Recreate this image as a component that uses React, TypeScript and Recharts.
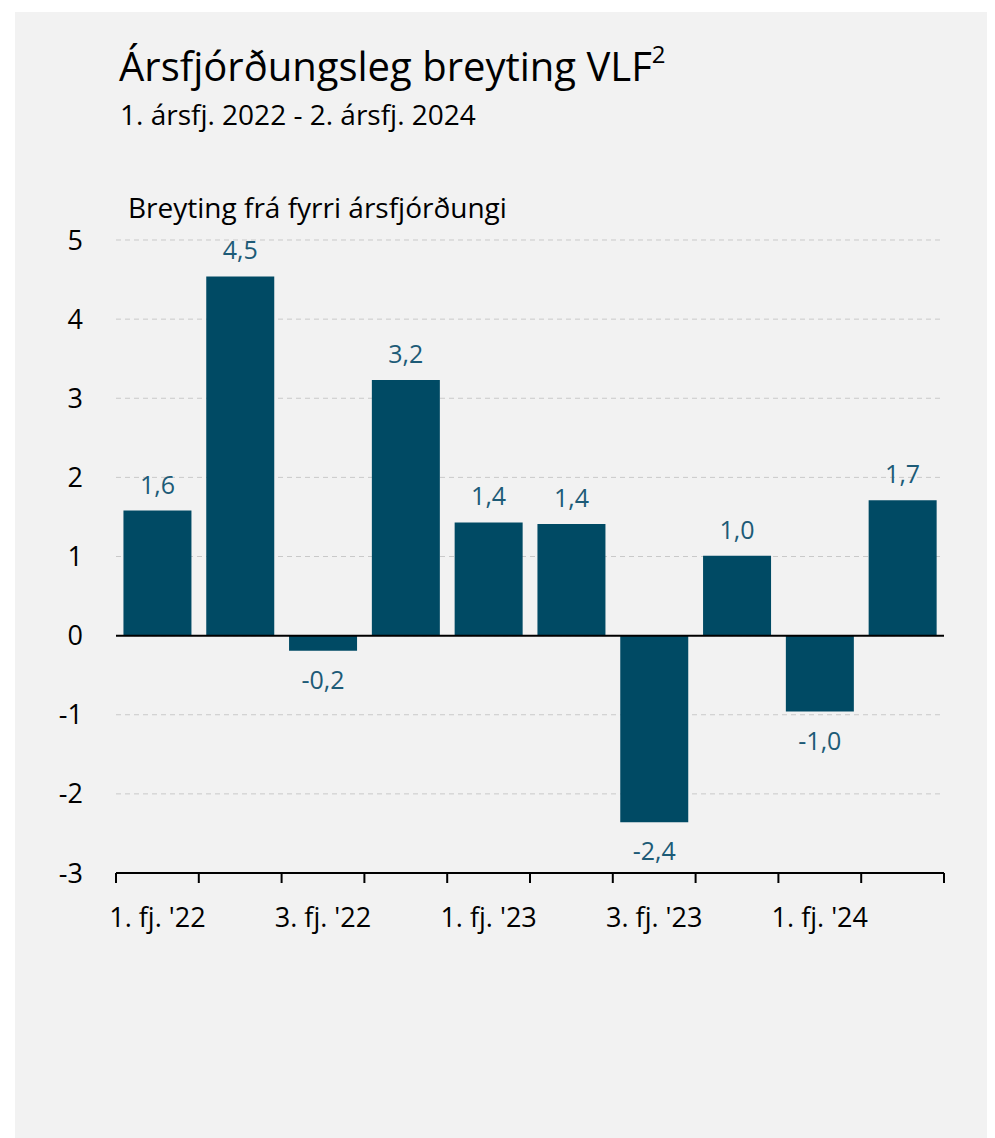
import { BarChart, Bar, XAxis, YAxis, CartesianGrid, ReferenceLine, LabelList } from "recharts";

// quarters, change from previous quarter (%)
const quarters: string[] = [
  "1. fj. '22",
  "2. fj. '22",
  "3. fj. '22",
  "4. fj. '22",
  "1. fj. '23",
  "2. fj. '23",
  "3. fj. '23",
  "4. fj. '23",
  "1. fj. '24",
  "2. fj. '24",
];
const changes: number[] = [1.58, 4.54, -0.19, 3.23, 1.43, 1.41, -2.36, 1.01, -0.96, 1.71];
const yTicks: number[] = [-3, -2, -1, 0, 1, 2, 3, 4, 5];

const data = quarters.map((q, i) => ({ quarter: q, value: changes[i] }));

const FONT = "'Open Sans', Lato, sans-serif";
const BAR_COLOR = "#004a64";
const LABEL_COLOR = "#1d5b77";

const fmt = (v: number) => v.toFixed(1).replace(".", ",");

function QuarterTick(props: any) {
  const { x, y, payload, index } = props;
  const half = payload.offset ?? 41.4;
  const last = index === quarters.length - 1;
  return (
    <g>
      <line x1={x - half} x2={x - half} y1={y} y2={y + 10} stroke="#000" strokeWidth={2} />
      {last && <line x1={x + half} x2={x + half} y1={y} y2={y + 10} stroke="#000" strokeWidth={2} />}
      {index % 2 === 0 && (
        <text x={x} y={y + 54} textAnchor="middle" fontSize={27} fill="#000" fontFamily={FONT}>
          {payload.value}
        </text>
      )}
    </g>
  );
}

function ValueLabel(props: any) {
  const { x, y, width, height, value } = props;
  const top = Math.min(y, y + height);
  const bottom = Math.max(y, y + height);
  const cx = x + width / 2;
  const ty = value >= 0 ? top - 17 : bottom + 38;
  return (
    <text x={cx} y={ty} textAnchor="middle" fontSize={25} fill={LABEL_COLOR} fontFamily={FONT}>
      {fmt(value)}
    </text>
  );
}

export default function App() {
  return (
    <div
      style={{
        position: "relative",
        marginLeft: 7,
        marginTop: 4,
        width: 978,
        height: 1126,
        background: "#f2f2f2",
        fontFamily: FONT,
      }}
    >
      <div style={{ position: "absolute", left: 104, top: 34, fontSize: 40, color: "#000", lineHeight: 1, whiteSpace: "nowrap" }}>
        Ársfjórðungsleg breyting VLF<sup style={{ fontSize: 24, verticalAlign: "top", position: "relative", top: -4 }}>2</sup>
      </div>
      <div style={{ position: "absolute", left: 105, top: 88, fontSize: 28, color: "#000", lineHeight: 1, whiteSpace: "nowrap" }}>
        1. ársfj. 2022 - 2. ársfj. 2024
      </div>
      <div style={{ position: "absolute", left: 113, top: 181, fontSize: 28, color: "#000", lineHeight: 1, whiteSpace: "nowrap" }}>
        Breyting frá fyrri ársfjórðungi
      </div>
      <div style={{ position: "absolute", left: 0, top: 0 }}>
        <BarChart
          width={978}
          height={950}
          data={data}
          margin={{ top: 228, right: 49, left: 0, bottom: 29 }}
          barCategoryGap="9%"
        >
          <CartesianGrid vertical={false} stroke="#c9c9c9" strokeDasharray="5 4" />
          <XAxis
            dataKey="quarter"
            interval={0}
            height={60}
            tickSize={0}
            tickMargin={0}
            tickLine={false}
            axisLine={{ stroke: "#000", strokeWidth: 2 }}
            tick={<QuarterTick />}
          />
          <YAxis
            domain={[-3, 5]}
            ticks={yTicks}
            width={101}
            tickSize={0}
            tickMargin={33}
            tickLine={false}
            axisLine={false}
            tick={{ fontSize: 27, fill: "#000", fontFamily: FONT }}
          />
          <ReferenceLine y={0} stroke="#000" strokeWidth={2} />
          <Bar dataKey="value" fill={BAR_COLOR} isAnimationActive={false}>
            <LabelList dataKey="value" content={<ValueLabel />} />
          </Bar>
        </BarChart>
      </div>
    </div>
  );
}
